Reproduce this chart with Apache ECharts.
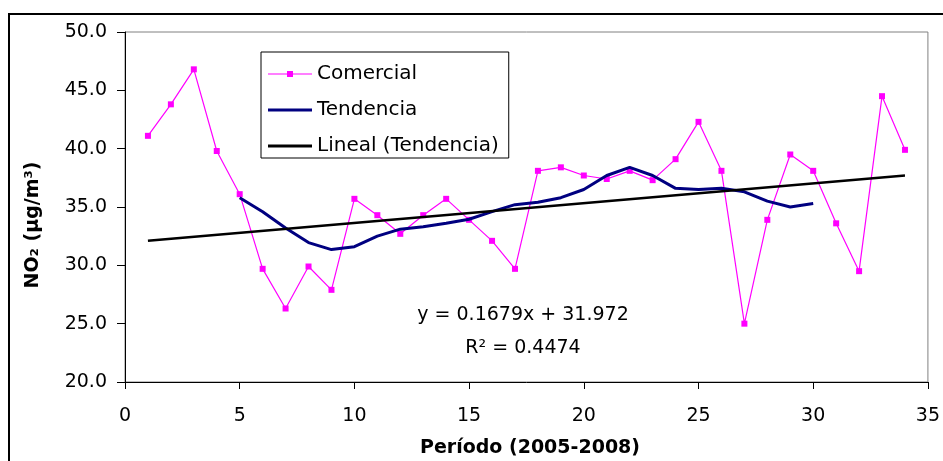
<!DOCTYPE html>
<html>
<head>
<meta charset="utf-8">
<script src="https://cdn.jsdelivr.net/npm/echarts@6/dist/echarts.min.js"></script>
<style>
html,body{margin:0;padding:0;background:#fff;}
#chart{width:943px;height:461px;}
</style>
</head>
<body>
<div id="chart"></div>
<script>
// Data
var comercialX = [1,2,3,4,5,6,7,8,9,10,11,12,13,14,15,16,17,18,19,20,21,22,23,24,25,26,27,28,29,30,31,32,33,34];
var comercialY = [41.1,43.8,46.8,39.8,36.1,29.7,26.3,29.9,27.9,35.7,34.3,32.7,34.3,35.7,33.9,32.1,29.7,38.1,38.4,37.7,37.4,38.1,37.3,39.1,42.3,38.1,25.0,33.9,39.5,38.1,33.6,29.5,44.5,39.9];
var tendenciaX = [5,6,7,8,9,10,11,12,13,14,15,16,17,18,19,20,21,22,23,24,25,26,27,28,29,30];
var tendenciaY = [35.8,34.6,33.2,31.95,31.35,31.6,32.5,33.1,33.3,33.6,33.95,34.6,35.2,35.4,35.8,36.5,37.7,38.4,37.7,36.6,36.5,36.6,36.3,35.5,35.0,35.3];
var linealX = [1,34];
var linealY = [32.1,37.7];
var equationText = 'y = 0.1679x + 31.972';
var r2Text = 'R\u00B2 = 0.4474';
var seriesNames = ['Comercial','Tendencia','Lineal (Tendencia)'];
var xTitle = 'Período (2005-2008)';
var yTitle = 'NO\u2082 (\u00B5g/m\u00B3)';

function pairs(xs, ys){ return xs.map(function(x,i){ return [x, ys[i]]; }); }

var FONT = 'DejaVu Sans';
var chart = echarts.init(document.getElementById('chart'), null, {renderer:'canvas'});
chart.setOption({
  animation: false,
  backgroundColor: '#fff',
  grid: {left:125, top:32, right:8, bottom:79, show:true, borderColor:'#808080', borderWidth:1, backgroundColor:'transparent'},
  xAxis: {
    type:'value', min:0, max:35, interval:5,
    axisLine:{show:true, onZero:false, lineStyle:{color:'#000', width:1}},
    axisTick:{show:true, inside:false, length:7, lineStyle:{color:'#000'}},
    axisLabel:{color:'#000', fontFamily:FONT, fontSize:19, margin:25},
    splitLine:{show:false}
  },
  yAxis: {
    type:'value', min:20, max:50, interval:5,
    axisLine:{show:true, onZero:false, lineStyle:{color:'#000', width:1}},
    axisTick:{show:true, inside:false, length:8, lineStyle:{color:'#000'}},
    axisLabel:{color:'#000', fontFamily:FONT, fontSize:19, margin:18, formatter:function(v){return v.toFixed(1);}},
    splitLine:{show:false}
  },
  legend: {
    orient:'vertical', left:261, top:52,
    padding:[12,10,2,7],
    itemWidth:44, itemHeight:14, itemGap:16,
    borderColor:'#000', borderWidth:1,
    textStyle:{color:'#000', fontFamily:FONT, fontSize:20},
    data: [
      {name:seriesNames[0], icon:'path://M0,2.5H19V3.5H0Z M19,0H25V6H19Z M25,2.5H44V3.5H25Z'},
      {name:seriesNames[1], icon:'path://M0,0H44V3H0Z'},
      {name:seriesNames[2], icon:'path://M0,0H44V3H0Z'}
    ]
  },
  series: [
    {name:seriesNames[0], type:'line', data:pairs(comercialX, comercialY),
     symbol:'rect', symbolSize:6, itemStyle:{color:'#FF00FF'}, lineStyle:{color:'#FF00FF', width:1.2}, z:2},
    {name:seriesNames[1], type:'line', data:pairs(tendenciaX, tendenciaY),
     symbol:'none', itemStyle:{color:'#000080'}, lineStyle:{color:'#000080', width:3}, z:3},
    {name:seriesNames[2], type:'line', data:pairs(linealX, linealY),
     symbol:'none', itemStyle:{color:'#000'}, lineStyle:{color:'#000', width:2.5}, z:4}
  ],
  graphic: [
    {type:'rect', shape:{x:9, y:14, width:1000, height:1000}, style:{fill:'none', stroke:'#000', lineWidth:2}, silent:true},
    {type:'text', x:33, y:225, rotation:Math.PI/2,
     style:{text:yTitle, fill:'#000', font:'bold 19px "DejaVu Sans"', textAlign:'center', textVerticalAlign:'middle'}},
    {type:'text', x:530, y:448,
     style:{text:xTitle, fill:'#000', font:'bold 19px "DejaVu Sans"', textAlign:'center', textVerticalAlign:'middle'}},
    {type:'text', x:523, y:315,
     style:{text:equationText, fill:'#000', font:'19px "DejaVu Sans"', textAlign:'center', textVerticalAlign:'middle'}},
    {type:'text', x:523, y:348,
     style:{text:r2Text, fill:'#000', font:'19px "DejaVu Sans"', textAlign:'center', textVerticalAlign:'middle'}}
  ]
});
</script>
</body>
</html>
